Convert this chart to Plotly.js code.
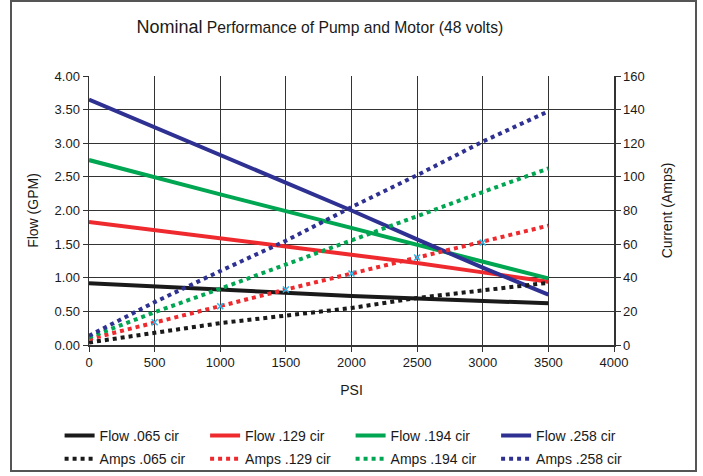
<!DOCTYPE html>
<html>
<head>
<meta charset="utf-8">
<script src="https://cdn.plot.ly/plotly-3.0.1.min.js"></script>
<style>
  html, body { margin: 0; padding: 0; background: #fff; }
  #wrap { position: relative; width: 703px; height: 476px; }
  #chart { width: 703px; height: 476px; }
  #frame { position: absolute; left: 10px; top: 0px; width: 683px; height: 468px;
           border: 2px solid #555; pointer-events: none; }
</style>
</head>
<body>
<div id="wrap">
  <div id="chart"></div>
  <div id="frame"></div>
</div>
<script>
const psi = [0, 500, 1000, 1500, 2000, 2500, 3000, 3500];

const flow065 = [0.92, 0.87, 0.83, 0.78, 0.73, 0.69, 0.65, 0.62];
const flow129 = [1.83, 1.71, 1.59, 1.47, 1.35, 1.22, 1.08, 0.94];
const flow194 = [2.75, 2.49, 2.24, 1.99, 1.74, 1.49, 1.24, 0.99];
const flow258 = [3.65, 3.24, 2.82, 2.42, 2.00, 1.57, 1.15, 0.75];

const amps065 = [1.5, 7.5, 13, 17.5, 22, 28, 32.5, 37];
const amps129 = [3.5, 13.5, 23, 33, 42.5, 52, 61, 71];
const amps194 = [4.5, 19.5, 33.5, 48, 62, 77, 91, 105];
const amps258 = [5.5, 25.5, 44, 62, 82, 101, 121, 139];

const markerPsi = [500, 1000, 1500, 2000, 2500, 3000];
const markerAmps = [13.5, 23, 33, 42.5, 52, 61];

const seriesNames = ['Flow .065 cir', 'Flow .129 cir', 'Flow .194 cir', 'Flow .258 cir',
                     'Amps .065 cir', 'Amps .129 cir', 'Amps .194 cir', 'Amps .258 cir'];
const colors = ['#1a1a1a', '#ee2a2e', '#00a651', '#2e3192'];

const flows = [flow065, flow129, flow194, flow258];
const amps = [amps065, amps129, amps194, amps258];

const traces = [];
flows.forEach((f, i) => {
  traces.push({x: psi, y: f, name: seriesNames[i], type: 'scatter', mode: 'lines',
    line: {color: colors[i], width: 4}, yaxis: 'y', legend: 'legend'});
});
amps.forEach((a, i) => {
  traces.push({x: psi, y: a, name: seriesNames[4 + i], type: 'scatter', mode: 'lines',
    line: {color: colors[i], width: 4, dash: 'dot'}, yaxis: 'y2', legend: 'legend2'});
});
traces.push({x: markerPsi, y: markerAmps, type: 'scatter', mode: 'markers', showlegend: false,
  hoverinfo: 'skip', yaxis: 'y2',
  marker: {symbol: 'x-thin', size: 6, line: {color: '#29b6e8', width: 1.5}}});

const fontFam = '"Liberation Sans", Arial, Helvetica, sans-serif';

const legendBase = {
  orientation: 'h', xref: 'paper', yref: 'paper',
  x: -0.056, xanchor: 'left', yanchor: 'middle',
  entrywidth: 100.5, entrywidthmode: 'pixels',
  font: {size: 14, family: fontFam, color: '#1a1a1a'}, itemwidth: 30,
  traceorder: 'normal', tracegroupgap: 0, bgcolor: 'rgba(0,0,0,0)'
};

const layout = {
  width: 703, height: 476,
  margin: {l: 89, r: 89, t: 76, b: 131, autoexpand: false},
  paper_bgcolor: '#fff', plot_bgcolor: '#fff',
  font: {family: fontFam, size: 13, color: '#1a1a1a'},
  title: {
    text: '<span style="font-size:18px">Nominal</span> Performance of Pump and Motor (48 volts)',
    x: 0.455, xref: 'container', xanchor: 'center',
    y: 0.943, yref: 'container', yanchor: 'middle',
    font: {family: fontFam, size: 15.7, color: '#1a1a1a'}
  },
  xaxis: {
    range: [0, 4000], dtick: 500, tick0: 0,
    showgrid: true, gridcolor: '#333', gridwidth: 1.2,
    showline: true, linecolor: '#333', linewidth: 1.5,
    ticks: 'outside', ticklen: 5, tickcolor: '#333',
    zeroline: false,
    title: {text: 'PSI', font: {size: 14}, standoff: 16},
    tickfont: {size: 13}
  },
  yaxis: {
    range: [0, 4], dtick: 0.5, tickformat: '.2f',
    showgrid: true, gridcolor: '#333', gridwidth: 1.2,
    showline: true, linecolor: '#333', linewidth: 1.5,
    ticks: 'outside', ticklen: 5, tickcolor: '#333',
    zeroline: false,
    title: {text: 'Flow (GPM)', font: {size: 14}, standoff: 12},
    tickfont: {size: 13}
  },
  yaxis2: {
    range: [0, 160], dtick: 20, overlaying: 'y', side: 'right',
    showgrid: false,
    showline: true, linecolor: '#333', linewidth: 1.5,
    ticks: 'outside', ticklen: 5, tickcolor: '#333',
    zeroline: false,
    title: {text: 'Current (Amps)', font: {size: 14}, standoff: 18},
    tickfont: {size: 13}
  },
  showlegend: true,
  legend: Object.assign({}, legendBase, {y: -0.338}),
  legend2: Object.assign({}, legendBase, {y: -0.424})
};

Plotly.newPlot('chart', traces, layout, {displayModeBar: false, staticPlot: true});
</script>
</body>
</html>
